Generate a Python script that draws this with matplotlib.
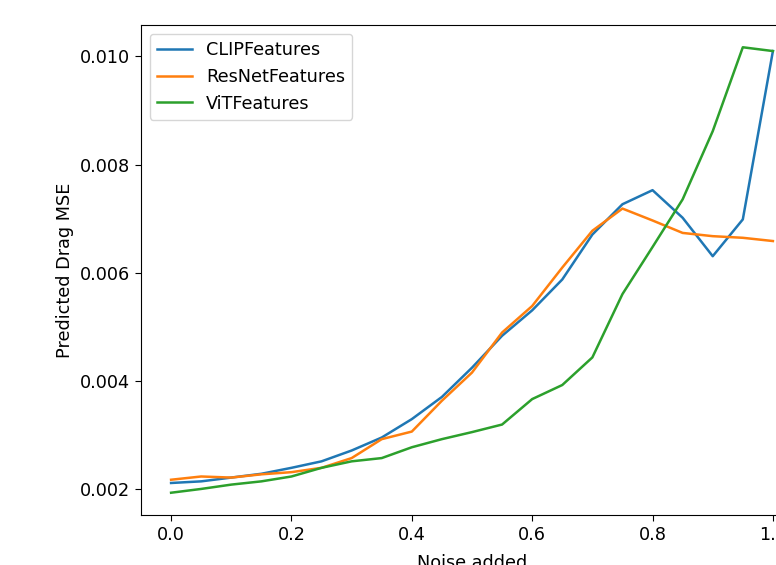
import numpy as np
import matplotlib
matplotlib.use("Agg")
import matplotlib.pyplot as plt

noise = [0.0, 0.05, 0.1, 0.15, 0.2, 0.25, 0.3, 0.35, 0.4, 0.45, 0.5,
         0.55, 0.6, 0.65, 0.7, 0.75, 0.8, 0.85, 0.9, 0.95, 1.0]

clip_mse = [0.00212, 0.00215, 0.00222, 0.00229, 0.00240, 0.00252, 0.00272,
            0.00296, 0.00330, 0.00371, 0.00425, 0.00484, 0.00531, 0.00588,
            0.00671, 0.00727, 0.00753, 0.00702, 0.00631, 0.00699, 0.01010]
resnet_mse = [0.00218, 0.00224, 0.00222, 0.00228, 0.00232, 0.00240, 0.00258,
              0.00293, 0.00307, 0.00364, 0.00416, 0.00490, 0.00539, 0.00610,
              0.00678, 0.00719, 0.00697, 0.00674, 0.00668, 0.00665, 0.00659]
vit_mse = [0.00194, 0.00201, 0.00209, 0.00215, 0.00224, 0.00240, 0.00252,
           0.00258, 0.00278, 0.00293, 0.00306, 0.00320, 0.00367, 0.00393,
           0.00444, 0.00561, 0.00648, 0.00736, 0.00862, 0.01017, 0.01010]

plt.rcParams['font.size'] = 12.7
plt.rcParams['lines.linewidth'] = 1.8
plt.rcParams['xtick.major.size'] = 4.5
plt.rcParams['ytick.major.size'] = 4.5

fig = plt.figure(figsize=(7.76, 5.65), dpi=100)
# axes runs past the right edge, like the cropped original
ax = fig.add_axes([141/776, 1 - 515/565, 662/776, 490/565])

ax.plot(noise, clip_mse, label='CLIPFeatures')
ax.plot(noise, resnet_mse, label='ResNetFeatures')
ax.plot(noise, vit_mse, label='ViTFeatures')

ax.set_xlabel('Noise added', labelpad=7)
ax.set_ylabel('Predicted Drag MSE')
ax.legend(loc='upper left')

fig.savefig('out.png', dpi=100)
